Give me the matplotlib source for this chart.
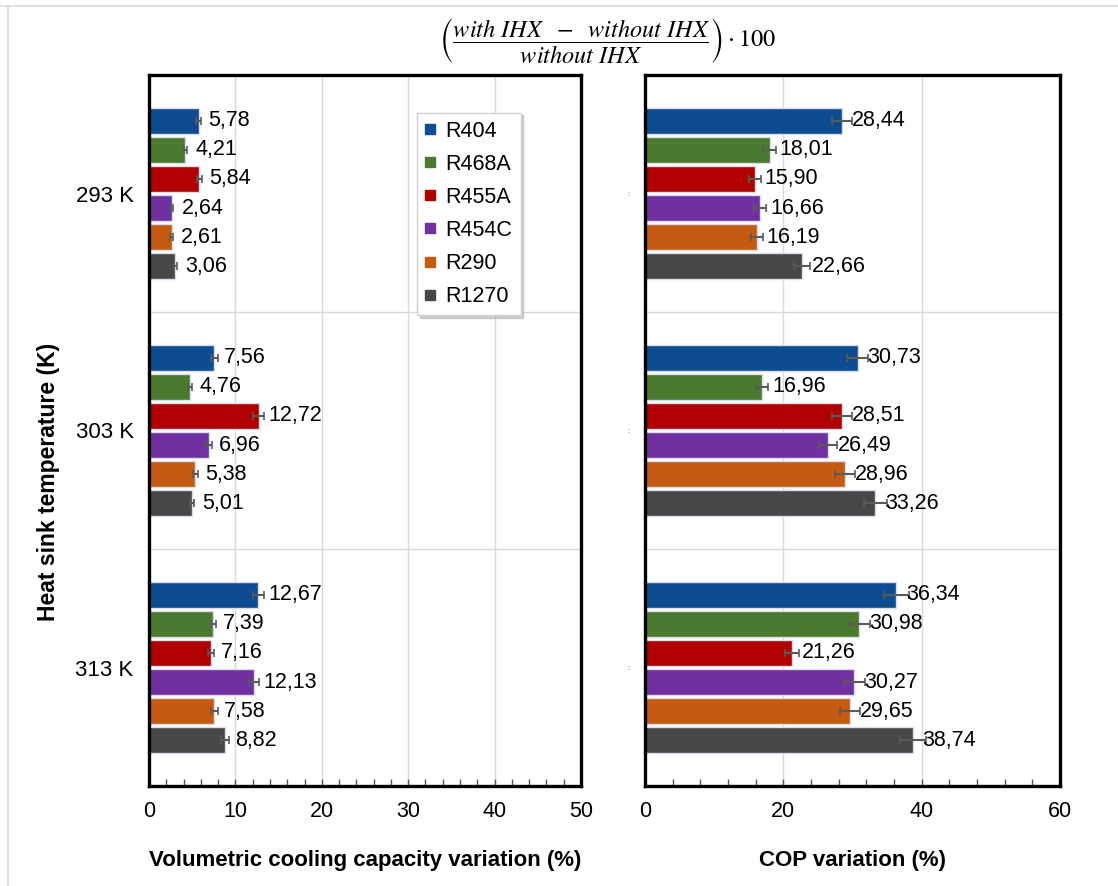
import numpy as np
import matplotlib.pyplot as plt
from matplotlib.lines import Line2D
from matplotlib.ticker import MultipleLocator

plt.rcParams['font.family'] = ['Liberation Sans', 'DejaVu Sans']
plt.rcParams['mathtext.fontset'] = 'stix'

# heat sink temperatures and refrigerants
temps = ['293 K', '303 K', '313 K']
fluids = ['R404', 'R468A', 'R455A', 'R454C', 'R290', 'R1270']
colors = ['#0e4c92', '#4a7a2e', '#b00000', '#7030a0', '#c55a11', '#474747']

# volumetric cooling capacity variation (%), one list per temperature
vcc_293 = [5.78, 4.21, 5.84, 2.64, 2.61, 3.06]
vcc_303 = [7.56, 4.76, 12.72, 6.96, 5.38, 5.01]
vcc_313 = [12.67, 7.39, 7.16, 12.13, 7.58, 8.82]
vcc_err_293 = [0.29, 0.21, 0.29, 0.13, 0.13, 0.15]
vcc_err_303 = [0.38, 0.24, 0.64, 0.35, 0.27, 0.25]
vcc_err_313 = [0.63, 0.37, 0.36, 0.61, 0.38, 0.44]

# COP variation (%)
cop_293 = [28.44, 18.01, 15.90, 16.66, 16.19, 22.66]
cop_303 = [30.73, 16.96, 28.51, 26.49, 28.96, 33.26]
cop_313 = [36.34, 30.98, 21.26, 30.27, 29.65, 38.74]
cop_err_293 = [1.42, 0.90, 0.80, 0.83, 0.81, 1.13]
cop_err_303 = [1.54, 0.85, 1.43, 1.32, 1.45, 1.66]
cop_err_313 = [1.82, 1.55, 1.06, 1.51, 1.48, 1.94]

vcc = np.array([vcc_293, vcc_303, vcc_313])
vcc_err = np.array([vcc_err_293, vcc_err_303, vcc_err_313])
cop = np.array([cop_293, cop_303, cop_313])
cop_err = np.array([cop_err_293, cop_err_303, cop_err_313])

W, H = 1118, 886
fig = plt.figure(figsize=(W / 100, H / 100), dpi=100)
ax1 = fig.add_axes([149 / W, 1 - 786 / H, 432 / W, 711 / H])
ax2 = fig.add_axes([645 / W, 1 - 786 / H, 415 / W, 711 / H])

pitch = 0.1224
bar_h = 0.112
cat = np.arange(len(temps))


def draw_panel(ax, vals, errs, xmax, major, minor):
    for i, name in enumerate(fluids):
        y = cat + (i - 2.5) * pitch
        ax.barh(y, vals[:, i], height=bar_h, color=colors[i],
                edgecolor='#dcdcea', linewidth=1, zorder=3, label=name)
        ax.errorbar(vals[:, i], y, xerr=errs[:, i], fmt='none',
                    ecolor='#5a5a5a', elinewidth=1.5, capsize=3,
                    capthick=1.2, zorder=4)
        for v, yy in zip(vals[:, i], y):
            ax.annotate(f'{v:.2f}'.replace('.', ','), (v, yy),
                        xytext=(7, 0), textcoords='offset points',
                        ha='left', va='center', fontsize=15.5, zorder=5)
    ax.set_xlim(0, xmax)
    ax.set_ylim(2.5, -0.5)
    ax.xaxis.set_major_locator(MultipleLocator(major))
    ax.xaxis.set_minor_locator(MultipleLocator(minor))
    ax.tick_params(axis='x', which='both', direction='in', length=5,
                   width=1, color='#555555', labelsize=15.5, pad=11)
    ax.tick_params(axis='y', length=0)
    ax.set_yticks([0.5, 1.5], minor=True)
    ax.grid(axis='x', which='major', color='#d9d9d9', linewidth=1, zorder=0)
    ax.grid(axis='y', which='minor', color='#d9d9d9', linewidth=1, zorder=0)
    ax.tick_params(axis='y', which='minor', length=0)
    for s in ax.spines.values():
        s.set_linewidth(2.4)
        s.set_color('black')
        s.set_zorder(6)


draw_panel(ax1, vcc, vcc_err, 50, 10, 2)
draw_panel(ax2, cop, cop_err, 60, 20, 4)

ax1.set_yticks(cat)
ax1.set_yticklabels(temps, fontsize=16)
ax1.tick_params(axis='y', pad=11)
ax2.set_yticks(cat)
ax2.set_yticklabels([':'] * 3, fontsize=5, color='#333333')
ax2.tick_params(axis='y', pad=11)

ax1.set_xlabel('Volumetric cooling capacity variation (%)', fontsize=16,
               fontweight='bold', labelpad=20)
ax2.set_xlabel('COP variation (%)', fontsize=16, fontweight='bold',
               labelpad=20)
fig.text(49 / W, 1 - 482 / H, 'Heat sink temperature (K)', rotation=90,
         ha='center', va='center', fontsize=16.5, fontweight='bold')

handles = [Line2D([], [], marker='s', linestyle='none', markersize=6.5,
                  markerfacecolor=c, markeredgecolor=c) for c in colors]
leg = ax1.legend(handles, fluids, loc='upper left',
                 bbox_to_anchor=(0.62, 0.947), borderaxespad=0,
                 fontsize=15.5, handlelength=0.5, handletextpad=0.45,
                 labelspacing=0.56, borderpad=0.38, fancybox=False,
                 shadow={'color': '#b0b0b0', 'alpha': 0.6})
leg.get_frame().set_edgecolor('#d0d0d0')
leg.get_frame().set_linewidth(1)
leg.set_zorder(10)

fig.text(607 / W, 1 - 40 / H,
         r'$\left(\dfrac{with\ IHX\ \ -\ \ without\ IHX}{without\ IHX}\right)\cdot 100$',
         ha='center', va='center', fontsize=17.5)

# thin outer frame lines
fig.add_artist(Line2D([0, 1], [1 - 6 / H, 1 - 6 / H], color='#d9d9d9',
                      linewidth=1.2, transform=fig.transFigure))
fig.add_artist(Line2D([8 / W, 8 / W], [0, 1 - 6 / H], color='#d9d9d9',
                      linewidth=1.2, transform=fig.transFigure))

fig.savefig('out.png', dpi=100)
